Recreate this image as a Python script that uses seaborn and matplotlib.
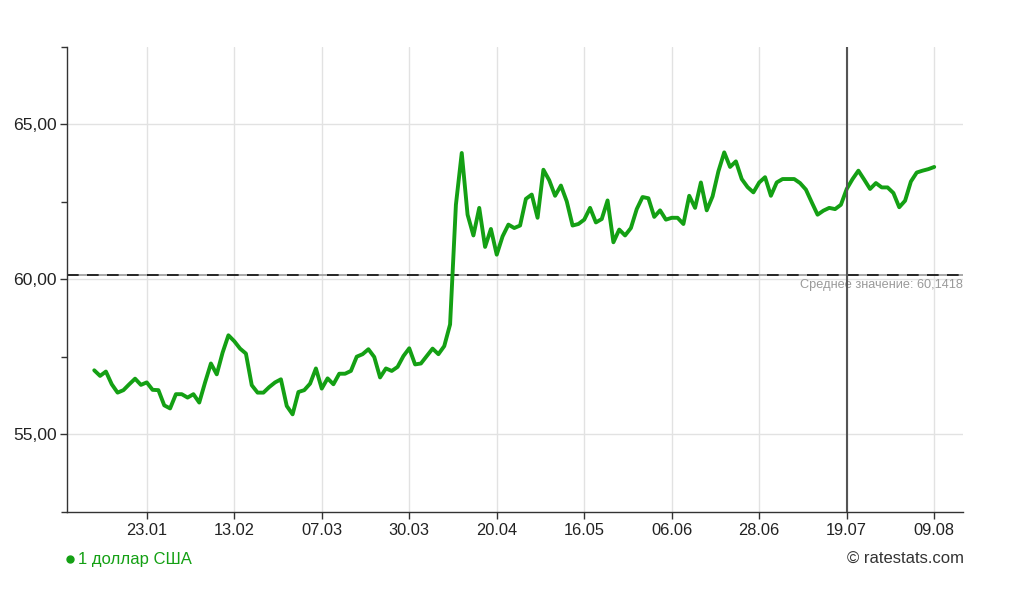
import matplotlib
matplotlib.use("Agg")
import matplotlib.pyplot as plt
from matplotlib.lines import Line2D
import seaborn as sns
import pandas as pd
import numpy as np

# USD/RUB rate, one value per published rate date
values = [
    57.07, 56.89, 57.03, 56.62, 56.35, 56.43, 56.62, 56.80, 56.60, 56.68,
    56.44, 56.43, 55.94, 55.84, 56.30, 56.30, 56.19, 56.30, 56.03, 56.68,
    57.29, 56.94, 57.64, 58.20, 58.01, 57.77, 57.61, 56.59, 56.35, 56.35,
    56.53, 56.68, 56.78, 55.92, 55.65, 56.37, 56.43, 56.64, 57.13, 56.48,
    56.81, 56.62, 56.96, 56.96, 57.05, 57.51, 57.59, 57.75, 57.50, 56.84,
    57.13, 57.05, 57.18, 57.53, 57.78, 57.26, 57.29, 57.53, 57.77, 57.59,
    57.85, 58.55, 62.41, 64.08, 62.09, 61.42, 62.31, 61.05, 61.63, 60.80,
    61.39, 61.77, 61.66, 61.74, 62.60, 62.74, 61.99, 63.54, 63.20, 62.70,
    63.03, 62.52, 61.74, 61.79, 61.93, 62.31, 61.84, 61.95, 62.55, 61.20,
    61.61, 61.42, 61.66, 62.27, 62.66, 62.62, 62.02, 62.23, 61.93, 61.99,
    61.99, 61.79, 62.70, 62.31, 63.13, 62.23, 62.68, 63.49, 64.10, 63.63,
    63.81, 63.24, 62.98, 62.81, 63.13, 63.30, 62.70, 63.13, 63.24, 63.24,
    63.24, 63.11, 62.90, 62.49, 62.09, 62.22, 62.31, 62.27, 62.41, 62.92,
    63.24, 63.51, 63.22, 62.92, 63.11, 62.97, 62.97, 62.79, 62.33, 62.54,
    63.16, 63.45, 63.51, 63.56, 63.63,
]
tick_labels = ["23.01", "13.02", "07.03", "30.03", "20.04",
               "16.05", "06.06", "28.06", "19.07", "09.08"]
y_ticks = [55, 60, 65]
y_tick_labels = ["55,00", "60,00", "65,00"]
mean_value = 60.1418
series_name = "1 доллар США"
hover_index = 129

sns.set_theme(style="white")
plt.rcParams["font.family"] = ["Liberation Sans", "DejaVu Sans"]

GREEN = "#14a014"
fig = plt.figure(figsize=(10.24, 6.0), dpi=100)
ax = fig.add_axes([0.0651, 0.1467, 0.8756, 0.775])

df = pd.DataFrame({"idx": np.arange(len(values)), "rate": values})

# grid
tick_pos = [9 + 15 * k for k in range(len(tick_labels))]
for t in tick_pos:
    ax.axvline(t, color="#e2e2e2", lw=1.0, zorder=0)
for t in y_ticks:
    ax.axhline(t, color="#e2e2e2", lw=1.0, zorder=0)

# mean line: gray base with black dashes
ax.axhline(mean_value, color="#9a9a9a", lw=1.2, zorder=1)
ax.axhline(mean_value, color="#111111", lw=1.2, zorder=1,
           linestyle=(0, (7, 5)))
ax.text(1.0, mean_value - 0.12, f"Среднее значение: {mean_value:.4f}".replace(".", ","),
        transform=ax.get_yaxis_transform(), ha="right", va="top",
        fontsize=9.2, color="#9a9a9a")

sns.lineplot(data=df, x="idx", y="rate", color=GREEN, lw=2.8, ax=ax,
             zorder=3, legend=False)

# hover crosshair
ax.axvline(hover_index, color="#555555", lw=1.5, zorder=4)

ax.set_xlim(-4.73, 148.98)
ax.set_ylim(52.5, 67.5)
ax.set_xticks(tick_pos)
ax.set_xticklabels(tick_labels)
ax.set_yticks(y_ticks)
ax.set_yticklabels(y_tick_labels)
ax.set_yticks([52.5, 57.5, 62.5, 67.5], minor=True)
ax.set_xlabel("")
ax.set_ylabel("")

ax.tick_params(axis="x", which="major", direction="out", length=5,
               width=1, color="#333333", labelsize=11.8, labelcolor="#222222",
               pad=3, bottom=True)
ax.tick_params(axis="y", which="major", direction="out", length=5,
               width=1, color="#333333", labelsize=12.6, labelcolor="#222222",
               pad=2, left=True)
ax.tick_params(axis="y", which="minor", direction="out", length=4,
               width=1, color="#333333", left=True)

for s in ["top", "right"]:
    ax.spines[s].set_visible(False)
for s in ["left", "bottom"]:
    ax.spines[s].set_color("#333333")
    ax.spines[s].set_linewidth(1.0)

# legend and credit
fig.add_artist(Line2D([0.0683], [0.0683], transform=fig.transFigure,
                      marker="o", markersize=5, color=GREEN, linestyle="none"))
fig.text(0.0760, 0.068, series_name, color=GREEN, fontsize=12,
         ha="left", va="center")
fig.text(0.941, 0.068, "© ratestats.com", color="#333333", fontsize=12,
         ha="right", va="center")

fig.savefig("out.png", dpi=100, facecolor="white")
